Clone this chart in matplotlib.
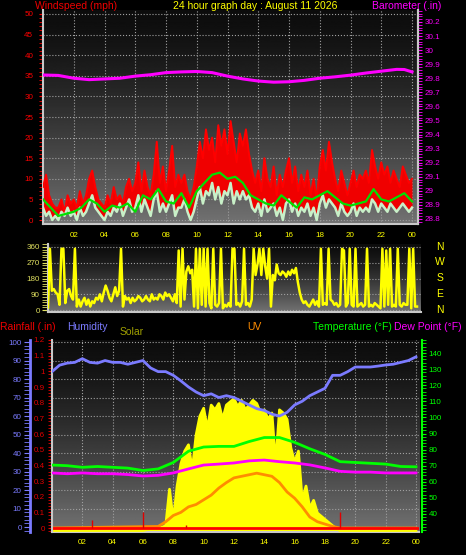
import numpy as np
import matplotlib
matplotlib.use('Agg')
import matplotlib.pyplot as plt
from matplotlib.ticker import MultipleLocator, FixedLocator, FuncFormatter

plt.rcParams['font.family'] = ['Liberation Sans', 'DejaVu Sans']

# ---------------- datos ----------------
# viento cada 12 min (mph)
rafaga = [8, 11, 6, 4, 3,  3, 5, 2, 6, 4,  5, 3, 7, 4, 6,  10, 12, 8, 5, 4,
          3, 6, 4, 8, 5,  6, 4, 8, 10, 7,  9, 14, 7, 12, 8,  6, 11, 19, 9, 13,
          7, 12, 18, 8, 11,  9, 11, 7, 5, 8,  13, 19, 15, 22, 17,  20, 14, 23, 18, 22,
          16, 24, 19, 14, 21,  18, 22, 16, 12, 9,  12, 7, 15, 10, 8,  13, 6, 11, 8, 12,
          15, 9, 13, 7, 11,  8, 12, 6, 10, 5,  13, 17, 12, 19, 14,  10, 7, 12, 9, 6,
          9, 12, 8, 11, 10,  12, 9, 17, 13, 10,  14, 11, 13, 9, 12,  10, 8, 13, 11, 9, 10]
velocidad = [3, 1, 2, 0, 1,  0, 2, 1, 3, 1,  2, 0, 3, 1, 2,  4, 6, 3, 2, 1,
             0, 2, 1, 3, 2,  4, 1, 3, 5, 2,  3, 6, 2, 5, 3,  1, 5, 7, 2, 4,
             2, 4, 6, 1, 3,  3, 5, 2, 0, 2,  5, 8, 4, 7, 6,  9, 5, 8, 4, 7,
             6, 9, 4, 7, 5,  7, 5, 6, 3, 2,  4, 1, 5, 2, 3,  4, 1, 3, 0, 4,
             5, 2, 4, 1, 3,  2, 4, 1, 3, 0,  4, 6, 3, 5, 4,  3, 1, 4, 2, 1,
             2, 4, 1, 3, 2,  3, 2, 5, 4, 2,  4, 3, 2, 4, 3,  2, 3, 4, 3, 2, 3]
# promedio cada 30 min
promedio = [5, 3, 1, 1.5, 2, 3, 5, 4, 2, 3.5, 3, 4, 2, 6, 5, 7.5, 4.5, 4, 6.5, 3,
            7, 9, 11, 11.5, 10, 10.5, 9, 6, 5, 4, 3.5, 6, 4.5, 3, 5.5, 5, 6, 7,
            5.5, 4, 3.5, 4, 4.5, 7.5, 5, 4.5, 5.5, 6.5, 4.5]

horas_baro = [0, 1, 2, 3, 4, 5, 6, 7, 8, 9, 10, 11, 12, 13, 14, 15, 16, 17, 18,
              19, 20, 21, 22, 23, 23.5, 24]
barometro = [29.823, 29.82, 29.80, 29.79, 29.795, 29.80, 29.815, 29.825, 29.84,
             29.845, 29.848, 29.84, 29.815, 29.795, 29.78, 29.772, 29.775, 29.785,
             29.80, 29.81, 29.822, 29.837, 29.85, 29.863, 29.862, 29.845]

# direccion del viento cada 7.5 min (grados)
direccion = [15, 350, 110, 120, 100, 90, 30, 350,
             350, 40, 110, 120, 80, 60, 350, 20,
             60, 20, 50, 70, 30, 60, 20, 50,
             40, 70, 60, 90, 50, 100, 140, 110,
             70, 50, 90, 130, 80, 110, 350, 20,
             80, 60, 70, 40, 70, 50, 60, 80,
             70, 50, 60, 80, 60, 50, 90, 60,
             70, 60, 90, 80, 60, 100, 80, 90,
             70, 50, 90, 40, 340, 20, 350, 60,
             220, 250, 210, 230, 20, 350, 10, 350,
             30, 350, 20, 350, 40, 10, 350, 30,
             20, 40, 350, 10, 30, 20, 40, 20,
             350, 350, 30, 40, 20, 50, 350, 30,
             40, 20, 60, 350, 200, 260, 350, 200,
             350, 250, 180, 350, 20, 200, 170, 260,
             210, 200, 220, 210, 190, 220, 200, 230,
             210, 240, 160, 100, 60, 40, 50, 30,
             20, 40, 60, 30, 50, 20, 350, 30,
             40, 30, 350, 60, 50, 30, 40, 20,
             30, 350, 340, 20, 40, 350, 30, 20,
             350, 20, 30, 40, 20, 30, 350, 20,
             30, 20, 40, 30, 20, 10, 350, 20,
             340, 30, 350, 20, 30, 20, 350, 30,
             20, 40, 30, 30, 350, 10, 350, 20, 20]

# humedad cada 30 min (%)
humedad = [84, 87.5, 88.6, 89, 91, 89, 88.6, 90, 89, 89, 88, 89, 90, 86, 84, 84,
           82, 79, 75.7, 73, 71, 72, 70, 71, 70, 68, 66, 64, 63, 61, 60, 62,
           66, 68, 71, 73, 75, 82, 82, 84, 86.5, 86.5, 86.5, 87, 87.6, 88, 89, 90, 92]
# temperatura y punto de rocio por hora (F)
temperatura = [70.4, 70, 69, 69.5, 69, 68.5, 67, 68, 72, 79, 81.6, 82, 82, 85,
               87.5, 87.5, 84.5, 80.5, 77, 72.5, 72, 71.5, 71, 69.5, 69.3]
rocio = [65.5, 65, 65.5, 65, 65, 64.5, 63.6, 64, 65.5, 68, 70.4, 71, 71.7, 73,
         73.5, 72.5, 71.7, 70.5, 68.6, 66.5, 66, 66, 65.5, 65.5, 65.5]

# solar (W/m2)
horas_solar = [0, 6.0, 6.25, 6.5, 6.75, 7.0, 7.25, 7.5, 7.75, 8.0, 8.25, 8.5, 8.75,
               9.0, 9.25, 9.5, 9.75, 10.0, 10.25, 10.5, 10.75, 11.0, 11.25, 11.5,
               11.75, 12.0, 12.25, 12.5, 12.75, 13.0, 13.25, 13.5, 13.75, 14.0,
               14.25, 14.5, 14.75, 15.0, 15.25, 15.5, 15.75, 16.0, 16.25, 16.5,
               16.75, 17.0, 17.25, 17.5, 17.75, 18.0, 18.25, 18.5, 18.75, 19.0, 24]
solar = [0, 0, 5, 10, 10, 15, 20, 30, 260, 60, 280, 420, 500, 540, 380, 600, 720,
         770, 640, 790, 760, 800, 700, 790, 810, 830, 780, 820, 760, 790, 820, 800,
         740, 760, 700, 740, 420, 760, 740, 700, 520, 430, 500, 190, 280, 140, 190,
         110, 90, 70, 50, 30, 10, 0, 0]
# indice UV
horas_uv = [0, 7.0, 7.5, 8.0, 8.5, 9.0, 9.5, 10.0, 10.5, 11.0, 11.5, 12.0, 12.5,
            13.0, 13.5, 14.0, 14.5, 15.0, 15.5, 16.0, 16.5, 17.0, 17.5, 18.0,
            18.5, 19.0, 24]
uv = [0, 0.1, 0.4, 0.8, 1.0, 1.35, 1.5, 1.8, 2.1, 2.55, 2.9, 3.2, 3.3, 3.4, 3.5,
      3.4, 3.3, 2.9, 2.3, 1.9, 1.35, 0.7, 0.4, 0.25, 0.1, 0, 0]
# lluvia
horas_lluvia = [0, 24.2]
lluvia_total = [0, 0]
horas_tasa = [2.65, 6.0, 8.85, 19.0]
tasa_lluvia = [0.05, 0.1, 0.02, 0.1]

etiquetas_horas = ['02', '04', '06', '08', '10', '12', '14', '16', '18', '20', '22', '00']
pos_horas = list(range(2, 25, 2))

# ---------------- figura ----------------
W, H = 466, 555
fig = plt.figure(figsize=(W / 100, H / 100), dpi=100, facecolor='black')


def caja(izq, arriba, der, abajo):
    return [izq / W, 1 - abajo / H, (der - izq) / W, (abajo - arriba) / H]


def fondo(ax):
    s = np.linspace(0, 1, 256).reshape(-1, 1)
    grad = 0.05 + 0.40 * s ** 1.4
    ax.imshow(grad, extent=[0, 1, 0, 1], transform=ax.transAxes, aspect='auto',
              cmap='gray', vmin=0, vmax=1, origin='upper', zorder=0)


def texto(x, y, s, color, size=7.5, **kw):
    fig.text(x / W, 1 - y / H, s, color=color, fontsize=size, va='center', **kw)


ROJO = '#ff0000'
MAGENTA = '#ff00ff'
AMARILLO = '#ffff00'
AZUL = '#7b7bff'
VERDE = '#00ff00'
BORDE = '#c8c8c8'
TAM = 5.8

t5 = np.arange(len(rafaga)) / 5
t2 = np.arange(len(promedio)) / 2
t8 = np.arange(len(direccion)) / 8
t1 = np.arange(len(temperatura))

# ---- panel 1: viento y barometro ----
ax1 = fig.add_axes(caja(43, 10, 418, 224))
fondo(ax1)
ax1.fill_between(t5, velocidad, rafaga, color='#f00000', lw=0, zorder=2)
ax1.plot(t5, rafaga, color=ROJO, lw=1.4, zorder=3)
ax1.plot(t5, velocidad, color='#c8f0c8', lw=1.8, zorder=4)
ax1.plot(t2, promedio, color='#00e000', lw=1.6, zorder=5)
ax1.set_xlim(0, 24.39)
ax1.set_ylim(-0.97, 50.97)
ax1.yaxis.set_major_locator(MultipleLocator(5))
ax1.yaxis.set_minor_locator(MultipleLocator(1))
ax1.tick_params(axis='y', which='both', colors=ROJO, labelsize=TAM, length=3, pad=4)
ax1.set_xticks(pos_horas)
ax1.set_xticklabels(etiquetas_horas)
ax1.tick_params(axis='x', length=0, pad=6, labelcolor=AMARILLO, labelsize=TAM)
ax1.grid(True, color='#a0a0a0', ls=':', lw=0.8, zorder=1)
ax1.spines['top'].set_visible(False)
for k in ('left', 'bottom', 'right'):
    ax1.spines[k].set_color(BORDE)
    ax1.spines[k].set_linewidth(1.5)

ax1b = ax1.twinx()
ax1b.plot(horas_baro, barometro, color=MAGENTA, lw=2.2)
ax1b.set_ylim(28.764, 30.285)
ax1b.yaxis.set_major_locator(MultipleLocator(0.1))
ax1b.yaxis.set_minor_locator(MultipleLocator(0.02))
ax1b.yaxis.set_major_formatter(FuncFormatter(lambda v, p: f'{round(v, 1):g}'))
ax1b.tick_params(axis='y', which='both', colors=MAGENTA, labelsize=TAM, length=3, pad=2)
for k in ('left', 'top', 'bottom'):
    ax1b.spines[k].set_visible(False)
ax1b.spines['right'].set_color(BORDE)
ax1b.spines['right'].set_linewidth(1.5)

texto(35, 6, 'Windspeed (mph)', '#f00000')
texto(255, 6, '24 hour graph day : August 11 2026', AMARILLO, ha='center')
texto(372, 6, 'Barometer (.in)', MAGENTA)

# ---- panel 2: direccion ----
ax2 = fig.add_axes(caja(48, 244, 421, 312))
fondo(ax2)
ax2.plot(t8, direccion, color=AMARILLO, lw=1.8, zorder=3)
ax2.set_xlim(0, 24.26)
ax2.set_ylim(-11, 377)
ax2.set_yticks([0, 90, 180, 270, 360])
ax2.yaxis.set_minor_locator(MultipleLocator(15))
ax2.tick_params(axis='y', which='both', colors='#e0e060', labelsize=TAM, length=4, pad=2)
ax2.set_xticks([])
ax2.grid(True, axis='y', color='#a0a0a0', ls=':', lw=0.8, zorder=1)
ax2.spines['top'].set_visible(False)
ax2.spines['right'].set_visible(False)
for k in ('left', 'bottom'):
    ax2.spines[k].set_color(BORDE)
    ax2.spines[k].set_linewidth(1.5)
for letra, yy in zip(['N', 'W', 'S', 'E', 'N'], [247, 262, 278, 294, 310]):
    texto(440, yy, letra, AMARILLO, ha='center')

# ---- panel 3: lluvia, humedad, solar, UV, temperatura ----
ax3 = fig.add_axes(caja(52, 340, 419, 532))
fondo(ax3)
ax3.set_xlim(0, 24.2)
ax3.set_ylim(-2.7, 101.1)
ax3.yaxis.set_major_locator(MultipleLocator(10))
ax3.yaxis.set_minor_locator(MultipleLocator(2))
ax3.spines['left'].set_position(('axes', -22 / 367))
ax3.spines['left'].set_color(AZUL)
ax3.spines['left'].set_linewidth(2)
ax3.tick_params(axis='y', which='both', colors=AZUL, labelsize=TAM, length=4, pad=2)
ax3.set_xticks(pos_horas)
ax3.set_xticklabels(etiquetas_horas)
ax3.tick_params(axis='x', length=0, pad=5, labelcolor=AMARILLO, labelsize=TAM)
ax3.grid(True, color='#a0a0a0', ls=':', lw=0.8, zorder=1)
ax3.spines['top'].set_visible(False)
ax3.spines['right'].set_visible(False)
ax3.spines['bottom'].set_color(BORDE)
ax3.spines['bottom'].set_linewidth(1.5)

ax_s = ax3.twinx()
ax_s.fill_between(horas_solar, 0, solar, color=AMARILLO, lw=0)
ax_s.plot(horas_solar, solar, color=AMARILLO, lw=2)
ax_s.set_ylim(-9.4, 1200)
ax_s.axis('off')

ax_u = ax3.twinx()
ax_u.plot(horas_uv, uv, color='#ff8c00', lw=2)
ax_u.set_ylim(-0.255, 12)
ax_u.axis('off')

ax_r = ax3.twinx()
ax_r.yaxis.tick_left()
ax_r.plot(horas_lluvia, lluvia_total, color='#ff0000', lw=2)
ax_r.vlines(horas_tasa, 0, tasa_lluvia, color='#e00000', lw=1)
ax_r.set_ylim(-0.0255, 1.2)
ax_r.yaxis.set_major_locator(MultipleLocator(0.1))
ax_r.yaxis.set_minor_locator(MultipleLocator(0.02))
ax_r.yaxis.set_major_formatter(FuncFormatter(lambda v, p: f'{round(v, 1):g}'))
ax_r.tick_params(axis='y', which='both', colors='#e00000', labelsize=TAM, length=3, pad=2)
for k in ('right', 'top', 'bottom'):
    ax_r.spines[k].set_visible(False)
ax_r.spines['left'].set_visible(True)
ax_r.spines['left'].set_color(BORDE)
ax_r.spines['left'].set_linewidth(1.5)

ax_h = ax3.twinx()
ax_h.plot(t2, humedad, color=AZUL, lw=2)
ax_h.set_ylim(-2.7, 101.1)
ax_h.axis('off')

ax_t = ax3.twinx()
ax_t.plot(t1, temperatura, color=VERDE, lw=2)
ax_t.plot(t1, rocio, color=MAGENTA, lw=2)
ax_t.set_ylim(28.8, 148.1)
ax_t.yaxis.set_major_locator(FixedLocator(list(range(40, 150, 10))))
ax_t.yaxis.set_minor_locator(MultipleLocator(2))
ax_t.tick_params(axis='y', which='both', colors=VERDE, labelsize=TAM, length=3, pad=2)
ax_t.spines['right'].set_position(('axes', 1.008))
ax_t.spines['right'].set_color(VERDE)
ax_t.spines['right'].set_linewidth(1.5)
for k in ('left', 'top', 'bottom'):
    ax_t.spines[k].set_visible(False)

texto(0, 327, 'Rainfall (.in)', '#f00000')
texto(67, 327, 'Humidity', AZUL)
texto(120, 332, 'Solar', '#a0a000')
texto(247, 327, 'UV', '#ff8c00')
texto(313, 327, 'Temperature (°F)', VERDE)
texto(394, 327, 'Dew Point (°F)', MAGENTA)

fig.savefig('out.png', dpi=100, facecolor='black')
